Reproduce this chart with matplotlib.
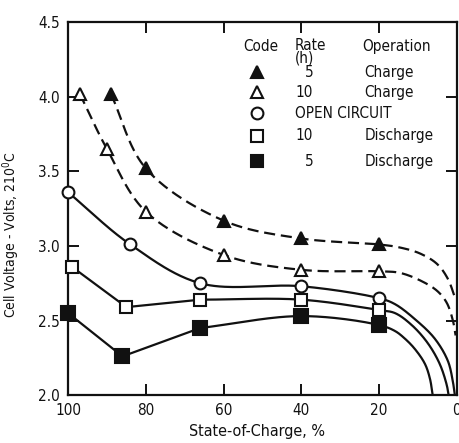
"""Cell voltage vs state-of-charge at 210 C, charge / open-circuit / discharge curves."""
import numpy as np
import matplotlib

matplotlib.use("Agg")
import matplotlib.pyplot as plt

plt.rcParams["font.family"] = ["DejaVu Sans"]
plt.rcParams["font.stretch"] = "condensed"

# --- marked points (state-of-charge %, cell volts) -----------------------------------
SOC_C5 = [89, 80, 60, 40, 20]
V_C5 = [4.02, 3.52, 3.17, 3.05, 3.01]
SOC_C10 = [97, 90, 80, 60, 40, 20]
V_C10 = [4.02, 3.65, 3.23, 2.94, 2.84, 2.83]
SOC_OC = [100, 84, 66, 40, 20]
V_OC = [3.36, 3.01, 2.75, 2.73, 2.65]
SOC_D10 = [99, 85, 66, 40, 20]
V_D10 = [2.86, 2.59, 2.64, 2.64, 2.57]
SOC_D5 = [100, 86, 66, 40, 20]
V_D5 = [2.55, 2.26, 2.45, 2.53, 2.47]

# --- unmarked tails of each curve toward 0 % ----------------------------------------
TAIL_SOC_C5 = [14.7, 9.5, 5.1, 2.3, 0.3]
TAIL_V_C5 = [2.99, 2.95, 2.88, 2.78, 2.64]
TAIL_SOC_C10 = [14.7, 9.5, 5.1, 2.6, 1.0, 0.3]
TAIL_V_C10 = [2.82, 2.77, 2.70, 2.62, 2.50, 2.40]
TAIL_SOC_OC = [15.9, 10.8, 5.7, 2.3, 1.0, 0.5]
TAIL_V_OC = [2.61, 2.51, 2.38, 2.23, 2.09, 2.0]
TAIL_SOC_D10 = [15.9, 11.6, 7.5, 4.4, 2.6, 2.1]
TAIL_V_D10 = [2.55, 2.47, 2.35, 2.21, 2.07, 2.0]
TAIL_SOC_D5 = [15.9, 13.4, 10.8, 8.2, 6.9, 6.2]
TAIL_V_D5 = [2.43, 2.38, 2.31, 2.21, 2.11, 2.0]

LEGEND_RATE = ["5", "10", "", "10", "5"]
LEGEND_OPER = ["Charge", "Charge", "OPEN CIRCUIT", "Discharge", "Discharge"]

INK = "#111111"


def catmull(xs, ys, n=40):
    """Centripetal Catmull-Rom through the points, worked in roughly screen-shaped units."""
    pts = np.column_stack([np.asarray(xs, float) * 3.89, np.asarray(ys, float) * 149.0])
    p = np.vstack([2 * pts[0] - pts[1], pts, 2 * pts[-1] - pts[-2]])
    out = []
    for i in range(1, len(p) - 2):
        p0, p1, p2, p3 = p[i - 1], p[i], p[i + 1], p[i + 2]
        t0 = 0.0
        t1 = t0 + np.linalg.norm(p1 - p0) ** 0.5
        t2 = t1 + np.linalg.norm(p2 - p1) ** 0.5
        t3 = t2 + np.linalg.norm(p3 - p2) ** 0.5
        t = np.linspace(t1, t2, n)[:, None]
        a1 = (t1 - t) / (t1 - t0) * p0 + (t - t0) / (t1 - t0) * p1
        a2 = (t2 - t) / (t2 - t1) * p1 + (t - t1) / (t2 - t1) * p2
        a3 = (t3 - t) / (t3 - t2) * p2 + (t - t2) / (t3 - t2) * p3
        b1 = (t2 - t) / (t2 - t0) * a1 + (t - t0) / (t2 - t0) * a2
        b2 = (t3 - t) / (t3 - t1) * a2 + (t - t1) / (t3 - t1) * a3
        seg = (t2 - t) / (t2 - t1) * b1 + (t - t1) / (t2 - t1) * b2
        out.append(seg if not out else seg[1:])
    res = np.vstack(out)
    return np.column_stack([res[:, 0] / 3.89, res[:, 1] / 149.0])


def curve(soc, v, tail_soc, tail_v, straight=0):
    """Straight segments for the first `straight` points, then a smooth spline."""
    xs = list(soc) + list(tail_soc)
    ys = list(v) + list(tail_v)
    if straight:
        head = np.column_stack([xs[:straight + 1], ys[:straight + 1]])
        rest = catmull(xs[straight:], ys[straight:])
        return np.vstack([head, rest[1:]])
    return catmull(xs, ys)


fig = plt.figure(figsize=(4.6, 4.43), dpi=100)
ax = fig.add_axes([0.148, 0.108, 0.845, 0.842])

dash = dict(color=INK, linewidth=1.6, dashes=(5, 2.6), zorder=2)
solid = dict(color=INK, linewidth=1.6, zorder=2)

c = curve(SOC_C5, V_C5, TAIL_SOC_C5, TAIL_V_C5)
ax.plot(c[:, 0], c[:, 1], **dash)
c = curve(SOC_C10, V_C10, TAIL_SOC_C10, TAIL_V_C10)
ax.plot(c[:, 0], c[:, 1], **dash)
c = curve(SOC_OC, V_OC, TAIL_SOC_OC, TAIL_V_OC)
ax.plot(c[:, 0], c[:, 1], **solid)
c = curve(SOC_D10, V_D10, TAIL_SOC_D10, TAIL_V_D10, straight=2)
ax.plot(c[:, 0], c[:, 1], **solid)
c = curve(SOC_D5, V_D5, TAIL_SOC_D5, TAIL_V_D5, straight=2)
ax.plot(c[:, 0], c[:, 1], **solid)

mk = dict(linestyle="none", markeredgecolor=INK, markeredgewidth=1.5, zorder=4,
          clip_on=False)
ax.plot(SOC_C5, V_C5, marker="^", markersize=9, markerfacecolor=INK, **mk)
ax.plot(SOC_C10, V_C10, marker="^", markersize=9, markerfacecolor="white", **mk)
ax.plot(SOC_OC, V_OC, marker="o", markersize=8.5, markerfacecolor="white", **mk)
ax.plot(SOC_D10, V_D10, marker="s", markersize=9, markerfacecolor="white", **mk)
ax.plot(SOC_D5, V_D5, marker="s", markersize=9.5, markerfacecolor=INK, **mk)

ax.set_xlim(100, 0)
ax.set_ylim(2.0, 4.5)
ax.set_xticks([100, 80, 60, 40, 20, 0])
ax.set_yticks([2.0, 2.5, 3.0, 3.5, 4.0, 4.5])
ax.set_yticklabels(["2.0", "2.5", "3.0", "3.5", "4.0", "4.5"])
ax.tick_params(direction="in", length=8, width=1.4, top=True, right=True,
               labelsize=11, pad=6, colors=INK)
for s in ax.spines.values():
    s.set_linewidth(1.6)
    s.set_color(INK)

ax.set_xlabel("State-of-Charge, %", fontsize=11.5, color=INK, labelpad=6)
ax.xaxis.set_label_coords(0.485, -0.078)
ax.set_ylabel("Cell Voltage - Volts, 210$^{\\mathregular{0}}$C", fontsize=10, color=INK)
ax.yaxis.set_label_coords(-0.118, 0.43)

# --- code table in the upper right ---------------------------------------------------
tx = dict(transform=ax.transAxes, fontsize=11, color=INK, va="center")
ax.text(0.450, 0.936, "Code", **tx)
ax.text(0.584, 0.957, "Rate\n(h)", transform=ax.transAxes, fontsize=11, color=INK,
        va="top", linespacing=0.8)
ax.text(0.756, 0.936, "Operation", **tx)

rows_y = [0.866, 0.812, 0.756, 0.695, 0.627]
codes = [("^", INK), ("^", "white"), ("o", "white"), ("s", "white"), ("s", INK)]
for y, (m, fc), rate, oper in zip(rows_y, codes, LEGEND_RATE, LEGEND_OPER):
    ax.plot([0.486], [y], marker=m, markersize=8.5, markerfacecolor=fc,
            markeredgecolor=INK, markeredgewidth=1.5, transform=ax.transAxes,
            clip_on=False, linestyle="none")
    if oper == "OPEN CIRCUIT":
        ax.text(0.584, y, oper, **tx)
        continue
    ax.text(0.609 if rate == "5" else 0.584, y, rate, **tx)
    ax.text(0.763, y, oper, **tx)

fig.savefig("out.png", dpi=100, facecolor="white")
